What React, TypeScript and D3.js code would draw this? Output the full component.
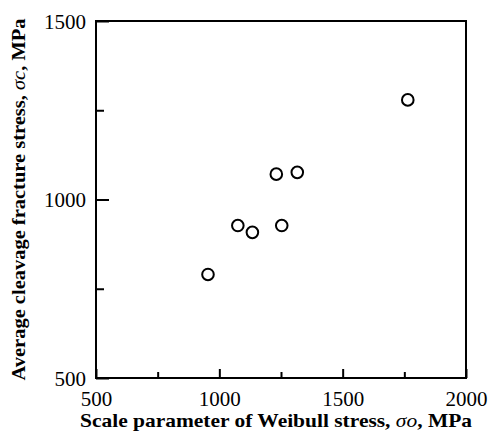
import { useEffect, useRef } from "react";
import * as d3 from "d3";

// Weibull scale parameter (MPa) and average cleavage fracture stress (MPa)
const sigmaO = [954, 1075, 1134, 1231, 1253, 1316, 1764];
const sigmaC = [790, 927, 908, 1071, 927, 1076, 1279];

const majorXTicks = [500, 1000, 1500, 2000];
const minorXTicks = [750, 1250, 1750];
const majorYTicks = [500, 1000, 1500];
const minorYTicks = [750, 1250];

const App = () => {
  const ref = useRef<SVGSVGElement>(null);

  useEffect(() => {
    draw();
  }, []);

  const draw = () => {
    const width = 491;
    const height = 433;
    const margin = { top: 21, right: 25, bottom: 55, left: 96 };
    const font = "'Liberation Serif', 'Times New Roman', serif";

    const svg = d3.select(ref.current).attr("width", width).attr("height", height);
    svg.selectAll("*").remove();

    const xScale = d3
      .scaleLinear()
      .domain([500, 2000])
      .range([margin.left, width - margin.right]);

    const yScale = d3
      .scaleLinear()
      .domain([500, 1500])
      .range([height - margin.bottom, margin.top]);

    // frame
    svg
      .append("rect")
      .attr("x", margin.left)
      .attr("y", margin.top)
      .attr("width", width - margin.left - margin.right)
      .attr("height", height - margin.top - margin.bottom)
      .attr("fill", "none")
      .attr("stroke", "#000")
      .attr("stroke-width", 2);

    // bottom axis - major ticks with labels
    const xAxisG = svg
      .append("g")
      .attr("transform", `translate(0,${height - margin.bottom})`)
      .call(d3.axisBottom(xScale).tickValues(majorXTicks).tickSize(-9).tickPadding(13).tickFormat(d3.format("d")));
    // minor ticks
    svg
      .append("g")
      .attr("transform", `translate(0,${height - margin.bottom})`)
      .call(d3.axisBottom(xScale).tickValues(minorXTicks).tickSize(-6).tickFormat(() => ""));

    // left axis
    const yAxisG = svg
      .append("g")
      .attr("transform", `translate(${margin.left},0)`)
      .call(d3.axisLeft(yScale).tickValues(majorYTicks).tickSize(-13).tickPadding(10).tickFormat(d3.format("d")));
    svg
      .append("g")
      .attr("transform", `translate(${margin.left},0)`)
      .call(d3.axisLeft(yScale).tickValues(minorYTicks).tickSize(-8).tickFormat(() => ""));

    svg.selectAll(".domain").remove();
    svg.selectAll(".tick line").attr("stroke", "#000").attr("stroke-width", 2);
    svg
      .selectAll(".tick text")
      .attr("fill", "#000")
      .style("font-family", font)
      .style("font-size", "21px");
    xAxisG.selectAll(".tick text").attr("dy", "0.71em");
    yAxisG.selectAll(".tick text").attr("dy", "0.34em");

    // points
    svg
      .append("g")
      .selectAll("circle")
      .data(sigmaO)
      .join("circle")
      .attr("cx", (d) => xScale(d))
      .attr("cy", (d, i) => yScale(sigmaC[i]))
      .attr("r", 5.8)
      .attr("fill", "none")
      .attr("stroke", "#000")
      .attr("stroke-width", 2);

    // x axis title
    const xTitle = svg
      .append("text")
      .attr("x", 276)
      .attr("y", 427)
      .attr("text-anchor", "middle")
      .attr("textLength", 392)
      .attr("lengthAdjust", "spacingAndGlyphs")
      .style("font-family", font)
      .style("font-size", "19.5px")
      .style("font-weight", "bold");
    xTitle.append("tspan").text("Scale parameter of Weibull stress, ");
    xTitle.append("tspan").style("font-style", "italic").style("font-weight", "normal").text("σo");
    xTitle.append("tspan").text(", MPa");

    // y axis title
    const yTitle = svg
      .append("text")
      .attr("transform", `translate(25,${(margin.top + height - margin.bottom) / 2}) rotate(-90)`)
      .attr("text-anchor", "middle")
      .attr("textLength", 362)
      .attr("lengthAdjust", "spacingAndGlyphs")
      .style("font-family", font)
      .style("font-size", "19.5px")
      .style("font-weight", "bold");
    yTitle.append("tspan").text("Average cleavage fracture stress, ");
    yTitle.append("tspan").style("font-style", "italic").style("font-weight", "normal").text("σc");
    yTitle.append("tspan").text(", MPa");
  };

  return (
    <div>
      <svg ref={ref} style={{ position: "absolute", left: 0, top: 0, background: "#fff" }}></svg>
    </div>
  );
};

export default App;
